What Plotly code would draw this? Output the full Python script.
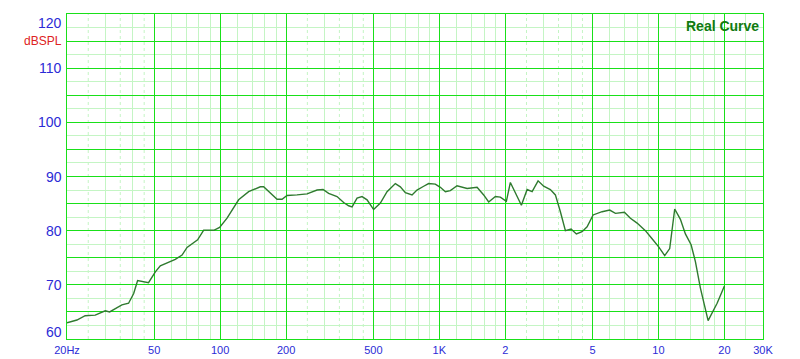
import plotly.graph_objects as go

# ---- data ----
freq_hz = [20, 22.2, 24.2, 26.9, 29.9, 31.3, 35.6, 38.2, 40.3, 42.0, 47.1, 50.6, 53.3, 62.4, 67.0,
           70.6, 78.9, 84.1, 94.0, 99.4, 107.5, 121.4, 134.9, 152.5, 157.9, 166.4, 181.8, 191.6,
           201.9, 224.2, 249.2, 276.8, 294.8, 312.6, 341.5, 366.0, 385.8, 399.8, 421.4, 444.2,
           468.0, 501.6, 538.4, 577.4, 619, 630, 664, 699.8, 751, 791, 848.6, 894, 959, 1011,
           1066, 1123, 1205, 1270, 1339, 1487, 1594, 1680, 1803, 1899, 2023, 2110, 2224, 2369,
           2516, 2652, 2823, 2994, 3212, 3386, 3569, 3762, 3994, 4222, 4483, 4725, 5032, 5532,
           5992, 6364, 6995, 7449, 7992, 8718, 9354, 10026, 10681, 11256, 11865, 12596, 13274,
           14093, 14746, 15541, 16851, 18525, 20000]
spl_db = [63.0, 63.5, 64.3, 64.4, 65.2, 65.0, 66.3, 66.6, 68.4, 70.8, 70.4, 72.4, 73.5, 74.7, 75.5,
          76.9, 78.3, 80.1, 80.1, 80.6, 82.3, 85.7, 87.2, 88.1, 88.1, 87.2, 85.8, 85.8,
          86.5, 86.6, 86.8, 87.5, 87.6, 86.9, 86.3, 85.2, 84.6, 84.4, 86.0, 86.3,
          85.7, 83.9, 85.1, 87.2, 88.4, 88.7, 88.1, 87.0, 86.6, 87.5, 88.2, 88.7, 88.6, 88.0,
          87.2, 87.4, 88.3, 88.0, 87.8, 88.0, 86.6, 85.3, 86.3, 86.2, 85.4, 88.9, 86.9, 84.7,
          87.6, 87.2, 89.2, 88.2, 87.6, 86.6, 83.5, 80.0, 80.3, 79.4, 79.8, 80.7, 82.9, 83.5,
          83.8, 83.2, 83.4, 82.3, 81.4, 80.0, 78.5, 77.0, 75.4, 76.7, 84.0, 82.1, 79.4,
          77.4, 74.3, 69.4, 63.4, 66.6, 69.8]

x_tick_vals = [20, 50, 100, 200, 500, 1000, 2000, 5000, 10000, 20000, 30000]
x_tick_text = ["20Hz", "50", "100", "200", "500", "1K", "2", "5", "10", "20", "30K"]
x_minor_solid = [30, 40, 60, 70, 80, 90, 120, 140, 160, 180, 300, 400, 600, 700, 800, 900,
                 1200, 1400, 1600, 1800, 3000, 4000, 6000, 7000, 8000, 9000,
                 12000, 14000, 16000, 18000, 25000]
x_minor_dashed = [25, 35, 45, 250, 350, 450, 2500, 3500, 4500]

y_major_grid = [60, 65, 70, 75, 80, 85, 90, 95, 100, 105, 110, 115, 120]
y_minor_grid = [62.5, 67.5, 72.5, 77.5, 82.5, 87.5, 92.5, 97.5, 102.5, 107.5, 112.5, 117.5]
y_label_vals = [120, 110, 100, 90, 80, 70, 60]
y_label_text = ["120", "110", "100", "90", "80", "70", "60"]

# ---- styles ----
FONT = "Arial, Liberation Sans, sans-serif"
BRIGHT = "#19e019"
LIGHT = "#c4f5c4"
BLUE = "#2b2bd6"
CURVE = "#2f7a2f"

fig = go.Figure()
fig.add_trace(go.Scatter(x=freq_hz, y=spl_db, mode="lines",
                         line=dict(color=CURVE, width=1.4), hoverinfo="skip",
                         showlegend=False))

# dashed minor verticals
for f in x_minor_dashed:
    fig.add_shape(type="line", xref="x", yref="paper", x0=f, x1=f, y0=0, y1=1,
                  line=dict(color=LIGHT, width=1, dash="3px,3px"), layer="below")

fig.update_xaxes(type="log", range=[1.30103, 4.4771213], automargin=False,
                 tickmode="array", tickvals=x_tick_vals, ticktext=x_tick_text,
                 tickfont=dict(family=FONT, size=11, color=BLUE),
                 showgrid=True, gridcolor=BRIGHT, gridwidth=1,
                 minor=dict(tickmode="array", tickvals=x_minor_solid, showgrid=True,
                            gridcolor=LIGHT, gridwidth=1, ticks=""),
                 ticks="", ticklabelstandoff=1,
                 showline=True, mirror=True, linecolor=BRIGHT, linewidth=1,
                 zeroline=False, fixedrange=True)
fig.update_yaxes(range=[60, 120], automargin=False, tickmode="array", tickvals=y_major_grid,
                 showticklabels=False,
                 showgrid=True, gridcolor=BRIGHT, gridwidth=1,
                 minor=dict(tickmode="array", tickvals=y_minor_grid, showgrid=True,
                            gridcolor=LIGHT, gridwidth=1, ticks=""),
                 ticks="", showline=True, mirror=True, linecolor=BRIGHT, linewidth=1,
                 zeroline=False, fixedrange=True)

annotations = []
for v, t in zip(y_label_vals, y_label_text):
    anchor = "middle"
    shift = 0
    if v == max(y_label_vals):
        anchor = "top"
        shift = 1
    elif v == min(y_label_vals):
        anchor = "bottom"
        shift = -3
    annotations.append(dict(x=0, xref="paper", y=v, yref="y", text=t, showarrow=False,
                            xanchor="right", yanchor=anchor, xshift=-3, yshift=shift,
                            font=dict(family=FONT, size=14, color=BLUE)))
annotations.append(dict(x=0, xref="paper", y=115, yref="y", text="dBSPL", showarrow=False,
                        xanchor="right", yanchor="middle", xshift=-3,
                        font=dict(family=FONT, size=12, color="#dd2222")))
annotations.append(dict(x=1, xref="paper", y=1, yref="paper", text="<b>Real Curve</b>",
                        showarrow=False, xanchor="right", yanchor="top", xshift=-2, yshift=-2,
                        font=dict(family=FONT, size=14, color="#107a10")))

fig.update_layout(width=800, height=359, margin=dict(l=67, r=37, t=14, b=20),
                  paper_bgcolor="white", plot_bgcolor="white",
                  annotations=annotations, showlegend=False)

fig.write_html("out.html", config={"displayModeBar": False})
